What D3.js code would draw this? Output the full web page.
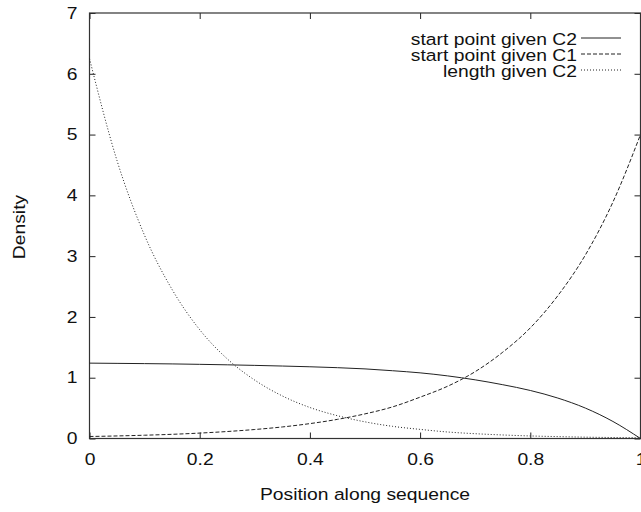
<!DOCTYPE html>
<html>
<head>
<meta charset="utf-8">
<script src="https://cdn.jsdelivr.net/npm/d3@7"></script>
<style>
  body { margin: 0; background: #fff; }
  svg { display: block; }
  text { font-family: "Liberation Sans", Arial, Helvetica, sans-serif; font-size: 16.5px; fill: #111; }
</style>
</head>
<body>
<script>
// x positions (fraction along sequence)
const positions = [0, 0.05, 0.1, 0.15, 0.2, 0.25, 0.3, 0.35, 0.4, 0.45, 0.5,
  0.55, 0.6, 0.65, 0.7, 0.75, 0.8, 0.85, 0.9, 0.95, 1];

// densities
const startGivenC2 = [1.24, 1.236, 1.232, 1.227, 1.22, 1.212, 1.203, 1.192, 1.18, 1.165, 1.145,
  1.115, 1.08, 1.03, 0.965, 0.885, 0.79, 0.665, 0.5, 0.28, 0];
const startGivenC1 = [0.033, 0.042, 0.054, 0.069, 0.089, 0.115, 0.148, 0.19, 0.245, 0.315, 0.405,
  0.52, 0.68, 0.86, 1.1, 1.42, 1.82, 2.35, 3.02, 3.89, 5.0];
const lengthGivenC2 = [6.25, 4.57, 3.34, 2.45, 1.79, 1.31, 0.96, 0.7, 0.51, 0.375, 0.274,
  0.2, 0.15, 0.107, 0.079, 0.058, 0.042, 0.031, 0.022, 0.016, 0.012];

const seriesNames = ['start point given C2', 'start point given C1', 'length given C2'];
const dashes = [null, '4,2', '1,2'];

const xTicks = [0, 0.2, 0.4, 0.6, 0.8, 1];
const yTicks = [0, 1, 2, 3, 4, 5, 6, 7];

let width = 641;
let height = 512;
let margin = { top: 13, right: 0.5, bottom: 73.5, left: 89.5 };
const stretch = 1.17; // the original font is wider than Helvetica

// scales
let x = d3.scaleLinear().domain([0, 1]).range([margin.left, width - margin.right]);
let y = d3.scaleLinear().domain([0, 7]).range([height - margin.bottom, margin.top]);

const svg = d3.select('body')
  .append('svg')
  .attr('width', width)
  .attr('height', height);

// axes, gnuplot style: ticks point inward, mirrored on top and right
const fmt = d => d === 0 || d === 1 ? d3.format('d')(d) : d3.format('.1f')(d);

const gx = svg.append('g')
  .attr('transform', `translate(0, ${y(0)})`)
  .call(d3.axisBottom(x).tickValues(xTicks).tickFormat(fmt).tickSize(-6).tickPadding(15))
  .call(g => g.select('.domain').remove());
gx.selectAll('text').attr('transform', `scale(${stretch},1)`);

const gy = svg.append('g')
  .attr('transform', `translate(${x(0)}, 0)`)
  .call(d3.axisLeft(y).tickValues(yTicks).tickFormat(d3.format('d')).tickSize(-6).tickPadding(12 / stretch))
  .call(g => g.select('.domain').remove());
gy.selectAll('text').attr('transform', `scale(${stretch},1)`);

svg.append('g')
  .attr('transform', `translate(0, ${y(7)})`)
  .call(d3.axisTop(x).tickValues(xTicks).tickFormat('').tickSize(-6))
  .call(g => g.select('.domain').remove());

svg.append('g')
  .attr('transform', `translate(${x(1)}, 0)`)
  .call(d3.axisRight(y).tickValues(yTicks).tickFormat('').tickSize(-6))
  .call(g => g.select('.domain').remove());

svg.selectAll('.tick line').attr('stroke', '#222');
svg.selectAll('.tick text').style('font-size', '16.5px').attr('fill', '#111');

// border
svg.append('rect')
  .attr('x', x(0))
  .attr('y', y(7))
  .attr('width', x(1) - x(0))
  .attr('height', y(0) - y(7))
  .attr('fill', 'none')
  .attr('stroke', '#333')
  .attr('stroke-width', 1.2);

// curves
const series = [startGivenC2, startGivenC1, lengthGivenC2];
const line = d3.line()
  .x((d, i) => x(positions[i]))
  .y(d => y(d))
  .curve(d3.curveMonotoneX);

svg.append('g')
  .selectAll('path')
  .data(series)
  .enter().append('path')
  .attr('d', line)
  .attr('fill', 'none')
  .attr('stroke', '#222')
  .attr('stroke-width', 1)
  .attr('stroke-dasharray', (d, i) => dashes[i]);

// legend
const legend = svg.append('g')
  .selectAll('g')
  .data(seriesNames)
  .enter().append('g')
  .attr('transform', (d, i) => `translate(0, ${45 + i * 16})`);

legend.append('text')
  .attr('transform', `translate(577, 0) scale(${stretch},1)`)
  .attr('text-anchor', 'end')
  .text(d => d);

legend.append('line')
  .attr('x1', 581)
  .attr('x2', 621)
  .attr('y1', -7)
  .attr('y2', -7)
  .attr('stroke', '#222')
  .attr('stroke-dasharray', (d, i) => dashes[i]);

// axis titles
svg.append('text')
  .attr('transform', `translate(${(x(0) + x(1)) / 2}, 500) scale(${stretch},1)`)
  .attr('text-anchor', 'middle')
  .text('Position along sequence');

svg.append('text')
  .attr('transform', `translate(25, 227) rotate(-90) scale(${stretch},1)`)
  .attr('text-anchor', 'middle')
  .text('Density');
</script>
</body>
</html>
